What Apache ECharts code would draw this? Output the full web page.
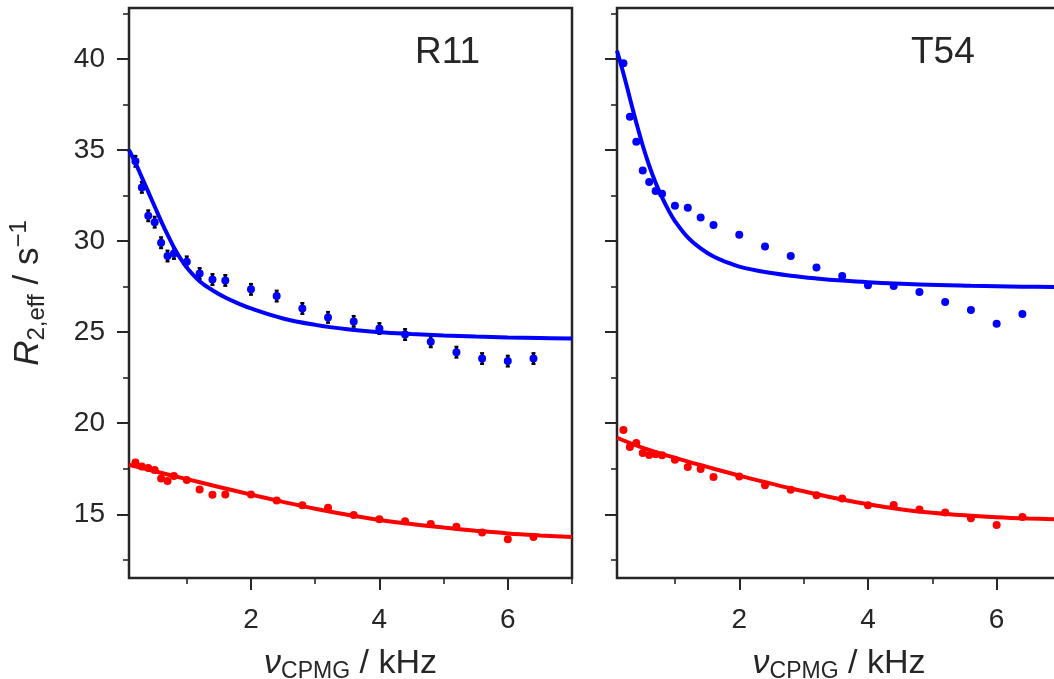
<!DOCTYPE html>
<html>
<head>
<meta charset="utf-8">
<script src="https://cdn.jsdelivr.net/npm/echarts@6/dist/echarts.min.js"></script>
<style>
html,body{margin:0;padding:0;background:#fff;}
#c{width:1054px;height:679px;}
</style>
</head>
<body>
<div id="c"></div>
<script>
// ---- data ----
const nuCPMG = [0.2,0.3,0.4,0.5,0.6,0.7,0.8,1.0,1.2,1.4,1.6,2.0,2.4,2.8,3.2,3.6,4.0,4.4,4.8,5.2,5.6,6.0,6.4];

const r11Blue = [34.38,32.95,31.39,31.04,29.91,29.18,29.32,28.86,28.22,27.89,27.84,27.35,26.98,26.3,25.81,25.59,25.2,24.87,24.47,23.9,23.55,23.41,23.55];
const r11BlueErr = [0.3,0.3,0.3,0.3,0.3,0.3,0.3,0.3,0.3,0.3,0.3,0.3,0.3,0.3,0.3,0.3,0.3,0.3,0.3,0.3,0.3,0.3,0.3];
const r11Red = [17.84,17.62,17.54,17.43,16.96,16.83,17.1,16.88,16.36,16.07,16.09,16.09,15.75,15.49,15.36,14.96,14.73,14.62,14.47,14.32,14.0,13.63,13.75];

const t54Blue = [39.76,36.83,35.46,33.88,33.24,32.75,32.6,31.94,31.83,31.3,30.88,30.35,29.71,29.18,28.55,28.08,27.57,27.53,27.21,26.66,26.21,25.46,26.0];
const t54Red = [19.63,18.7,18.92,18.37,18.26,18.3,18.24,18.0,17.6,17.49,17.05,17.07,16.59,16.34,16.04,15.86,15.49,15.51,15.26,15.09,14.78,14.41,14.85];

// fitted curves
const r11BlueFitX = [0.1,0.2,0.3,0.4,0.5,0.6,0.7,0.8,0.9,1.0,1.2,1.4,1.6,1.8,2.0,2.5,3.0,3.5,4.0,4.5,5.0,5.5,6.0,6.5,7.0];
const r11BlueFitY = [35.0,34.3,33.5,32.7,31.9,31.1,30.35,29.65,29.05,28.55,27.8,27.3,26.9,26.58,26.3,25.75,25.4,25.16,25.0,24.9,24.82,24.76,24.71,24.68,24.65];
const r11RedFitX = [0.1,0.5,1.0,1.5,2.0,2.5,3.0,3.5,4.0,4.5,5.0,5.5,6.0,6.5,7.0];
const r11RedFitY = [17.72,17.36,16.93,16.5,16.08,15.68,15.3,14.97,14.69,14.46,14.27,14.1,13.95,13.84,13.75];

const t54BlueFitX = [0.1,0.2,0.3,0.4,0.5,0.6,0.7,0.8,0.9,1.0,1.2,1.4,1.6,1.8,2.0,2.4,2.8,3.2,3.6,4.0,4.8,5.6,6.4,7.0];
const t54BlueFitY = [40.45,39.2,37.85,36.5,35.25,34.15,33.2,32.4,31.7,31.1,30.2,29.6,29.15,28.85,28.6,28.3,28.1,27.95,27.83,27.74,27.62,27.55,27.5,27.47];
const t54RedFitX = [0.1,0.5,1.0,1.5,2.0,2.5,3.0,3.5,4.0,4.5,5.0,5.5,6.0,6.5,7.0];
const t54RedFitY = [19.2,18.65,18.1,17.6,17.12,16.68,16.26,15.88,15.55,15.28,15.08,14.94,14.84,14.77,14.72];

const panelTitles = ['R11','T54'];
const xTicks = [2,4,6];
const xMinorTicks = [1,3,5,7];
const yTicks = [15,20,25,30,35,40];
const yMinorTicks = [12.5,17.5,22.5,27.5,32.5,37.5,42.5];

// ---- chart ----
const FONT = '"Liberation Sans", Arial, sans-serif';
const INK = '#262626';
const BLUE = '#0000ff';
const RED = '#ff0000';
const X_MIN = 0.1, X_MAX = 7.0, Y_MIN = 11.5, Y_MAX = 42.8;

const pairs = (xs, ys) => xs.map((x, i) => [x, ys[i]]);

function xAxes(gridIndex) {
  const major = {
    type: 'value', gridIndex, min: X_MIN, max: X_MAX, position: 'bottom',
    axisLine: {show: false}, splitLine: {show: false},
    axisTick: {show: true, customValues: xTicks, length: 12, lineStyle: {color: INK, width: 2}},
    axisLabel: {show: true, customValues: xTicks, margin: 28, fontSize: 28, color: INK, fontFamily: FONT},
    name: '{nu|ν}{sub|CPMG}{n| / kHz}', nameLocation: 'middle', nameGap: 67,
    nameTextStyle: {
      color: INK, fontFamily: FONT,
      rich: {
        nu: {fontStyle: 'italic', fontSize: 34, fontFamily: FONT, color: INK, lineHeight: 38},
        sub: {fontSize: 23, fontFamily: FONT, color: INK, verticalAlign: 'bottom', lineHeight: 23},
        n: {fontSize: 34, fontFamily: FONT, color: INK, lineHeight: 38}
      }
    }
  };
  const minor = {
    type: 'value', gridIndex, min: X_MIN, max: X_MAX, position: 'bottom',
    axisLine: {show: false}, splitLine: {show: false},
    axisTick: {show: true, customValues: xMinorTicks, length: 6, lineStyle: {color: INK, width: 1.6}},
    axisLabel: {show: false}
  };
  return [major, minor];
}

function yAxes(gridIndex, withLabels) {
  const major = {
    type: 'value', gridIndex, min: Y_MIN, max: Y_MAX, position: 'left',
    axisLine: {show: false}, splitLine: {show: false},
    axisTick: {show: true, customValues: yTicks, length: 12, lineStyle: {color: INK, width: 2}},
    axisLabel: {show: withLabels, customValues: yTicks, margin: 24, fontSize: 28, color: INK, fontFamily: FONT}
  };
  if (withLabels) {
    major.name = '{r|R}{sub|2,eff}{n| / s}{sup|−1}';
    major.nameLocation = 'middle';
    major.nameGap = 80;
    major.nameTextStyle = {
      color: INK, fontFamily: FONT,
      rich: {
        r: {fontStyle: 'italic', fontSize: 35, fontFamily: FONT, color: INK, lineHeight: 42},
        sub: {fontSize: 24, fontFamily: FONT, color: INK, verticalAlign: 'bottom', lineHeight: 24},
        n: {fontSize: 35, fontFamily: FONT, color: INK, lineHeight: 42},
        sup: {fontSize: 24, fontFamily: FONT, color: INK, verticalAlign: 'top', lineHeight: 24}
      }
    };
  }
  const minor = {
    type: 'value', gridIndex, min: Y_MIN, max: Y_MAX, position: 'left',
    axisLine: {show: false}, splitLine: {show: false},
    axisTick: {show: true, customValues: yMinorTicks, length: 6, lineStyle: {color: INK, width: 1.6}},
    axisLabel: {show: false}
  };
  return [major, minor];
}

function errorBars(xAxisIndex, yAxisIndex, xs, ys, errs) {
  return {
    type: 'custom', xAxisIndex, yAxisIndex, z: 1, silent: true,
    data: xs.map((x, i) => [x, ys[i], errs[i]]),
    renderItem: function (params, api) {
      const x = api.value(0), y = api.value(1), e = api.value(2);
      const lo = api.coord([x, y - e]);
      const hi = api.coord([x, y + e]);
      return {
        type: 'group',
        children: [
          {type: 'line', shape: {x1: lo[0], y1: lo[1], x2: hi[0], y2: hi[1]}, style: {stroke: '#000', lineWidth: 3}},
          {type: 'line', shape: {x1: lo[0] - 2, y1: lo[1], x2: lo[0] + 2, y2: lo[1]}, style: {stroke: '#000', lineWidth: 2}},
          {type: 'line', shape: {x1: hi[0] - 2, y1: hi[1], x2: hi[0] + 2, y2: hi[1]}, style: {stroke: '#000', lineWidth: 2}}
        ]
      };
    }
  };
}

function scatter(xAxisIndex, yAxisIndex, xs, ys, color) {
  return {
    type: 'scatter', xAxisIndex, yAxisIndex, z: 2, silent: true,
    symbol: 'circle', symbolSize: 8, itemStyle: {color, opacity: 1},
    data: pairs(xs, ys)
  };
}

function fitLine(xAxisIndex, yAxisIndex, xs, ys, color) {
  return {
    type: 'line', xAxisIndex, yAxisIndex, z: 3, silent: true,
    showSymbol: false, smooth: 0.4,
    lineStyle: {color, width: 4},
    data: pairs(xs, ys)
  };
}

const [x0a, x0b] = xAxes(0);
const [x1a, x1b] = xAxes(1);
const [y0a, y0b] = yAxes(0, true);
const [y1a, y1b] = yAxes(1, false);

const titleStyle = {fontSize: 37, fontWeight: 'normal', color: INK, fontFamily: FONT};
const gridBase = {top: 8, bottom: 101, show: true, borderColor: INK, borderWidth: 2.5,
  backgroundColor: 'transparent', containLabel: false, outerBoundsMode: 'none'};

const option = {
  backgroundColor: '#ffffff',
  animation: false,
  title: [
    {text: panelTitles[0], left: 410, top: 29, textStyle: titleStyle},
    {text: panelTitles[1], left: 906, top: 29, textStyle: titleStyle}
  ],
  grid: [
    Object.assign({left: 129, right: 482}, gridBase),
    Object.assign({left: 617, right: -7}, gridBase)
  ],
  xAxis: [x0a, x0b, x1a, x1b],
  yAxis: [y0a, y0b, y1a, y1b],
  series: [
    errorBars(0, 0, nuCPMG, r11Blue, r11BlueErr),
    scatter(0, 0, nuCPMG, r11Blue, BLUE),
    scatter(0, 0, nuCPMG, r11Red, RED),
    fitLine(0, 0, r11BlueFitX, r11BlueFitY, BLUE),
    fitLine(0, 0, r11RedFitX, r11RedFitY, RED),
    scatter(2, 2, nuCPMG, t54Blue, BLUE),
    scatter(2, 2, nuCPMG, t54Red, RED),
    fitLine(2, 2, t54BlueFitX, t54BlueFitY, BLUE),
    fitLine(2, 2, t54RedFitX, t54RedFitY, RED)
  ]
};

const chart = echarts.init(document.getElementById('c'), null, {renderer: 'canvas'});
chart.setOption(option);
</script>
</body>
</html>
